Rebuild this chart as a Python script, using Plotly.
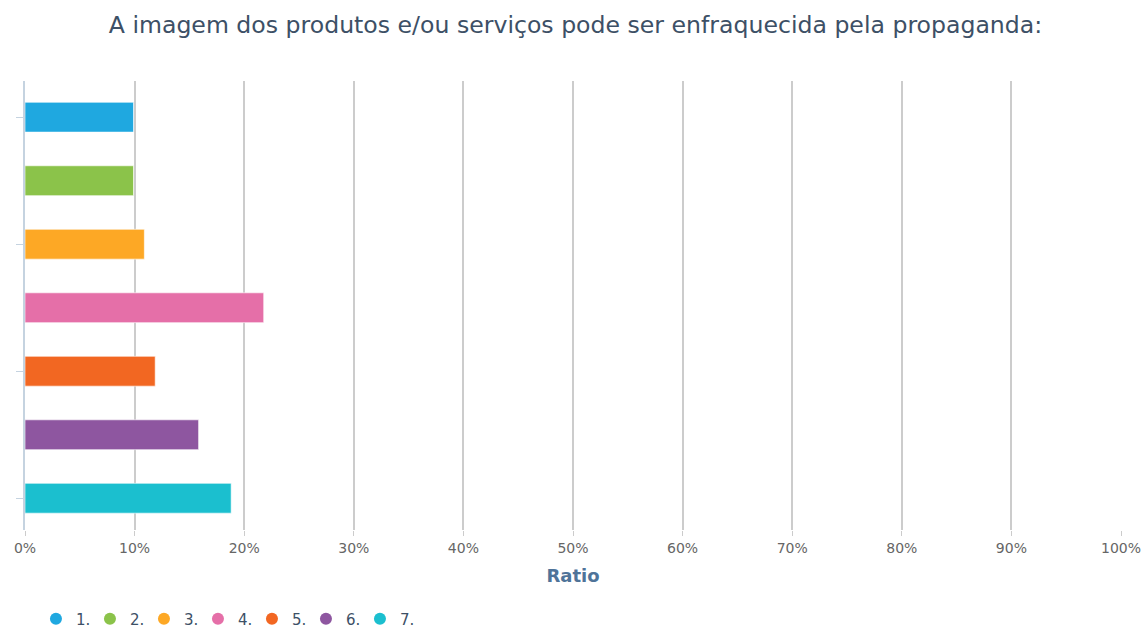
import plotly.graph_objects as go

categories = ["1.", "2.", "3.", "4.", "5.", "6.", "7."]
values = [9.90, 9.90, 10.89, 21.78, 11.88, 15.84, 18.81]
colors = ["#1fa8e0", "#8bc34a", "#fda825", "#e56fa8", "#f26722", "#8e56a0", "#1bbfcf"]
x_ticks = list(range(0, 101, 10))
x_tick_labels = [f"{v}%" for v in x_ticks]
title = "A imagem dos produtos e/ou serviços pode ser enfraquecida pela propaganda:"

fig = go.Figure()
for cat, val, col in zip(categories, values, colors):
    fig.add_trace(go.Bar(
        x=[val], y=[cat], orientation="h", name=cat,
        marker=dict(color=col, line=dict(color="rgba(255,255,255,0.6)", width=1)),
        width=0.47, showlegend=False, hoverinfo="x+name",
    ))
for cat, col in zip(categories, colors):
    fig.add_trace(go.Scatter(
        x=[None], y=[None], mode="markers", name=cat,
        marker=dict(color=col, size=14, symbol="circle"),
        showlegend=True,
    ))

fig.update_layout(
    width=1145, height=631,
    paper_bgcolor="white", plot_bgcolor="white",
    font=dict(family="DejaVu Sans", color="#3d5066"),
    title=dict(text=title, x=0.5026, xanchor="center", y=1 - 25 / 631, yanchor="middle",
               font=dict(size=23.6, color="#3d5066")),
    margin=dict(l=25, r=24, t=81, b=101, autoexpand=False),
    barmode="overlay",
    showlegend=True,
    legend=dict(orientation="h", x=0.01, xanchor="left", y=-0.198, yanchor="middle",
                font=dict(size=15, color="#3d5066"), itemsizing="constant",
                entrywidth=9, entrywidthmode="pixels"),
    xaxis=dict(
        range=[0, 100], tickvals=x_ticks, ticktext=x_tick_labels,
        showgrid=True, gridcolor="#cccccc", gridwidth=1.5,
        zeroline=False, showline=False, automargin=False,
        ticks="outside", ticklen=5, tickcolor="#cccccc",
        tickfont=dict(size=14, color="#666666"),
        title=dict(text="<b>Ratio</b>", font=dict(size=18, color="#4f7399"), standoff=14),
    ),
    yaxis=dict(
        categoryorder="array", categoryarray=categories,
        range=[6.5, -0.57],
        tickvals=["1.", "3.", "5.", "7."], showticklabels=False,
        ticks="outside", ticklen=7, tickcolor="#c5d3e0",
        showline=True, linecolor="#c5d3e0", linewidth=2,
        showgrid=False, zeroline=False, automargin=False,
    ),
)

fig.write_html("out.html", config={"displayModeBar": False},
               post_script="document.body.style.margin='0';")
